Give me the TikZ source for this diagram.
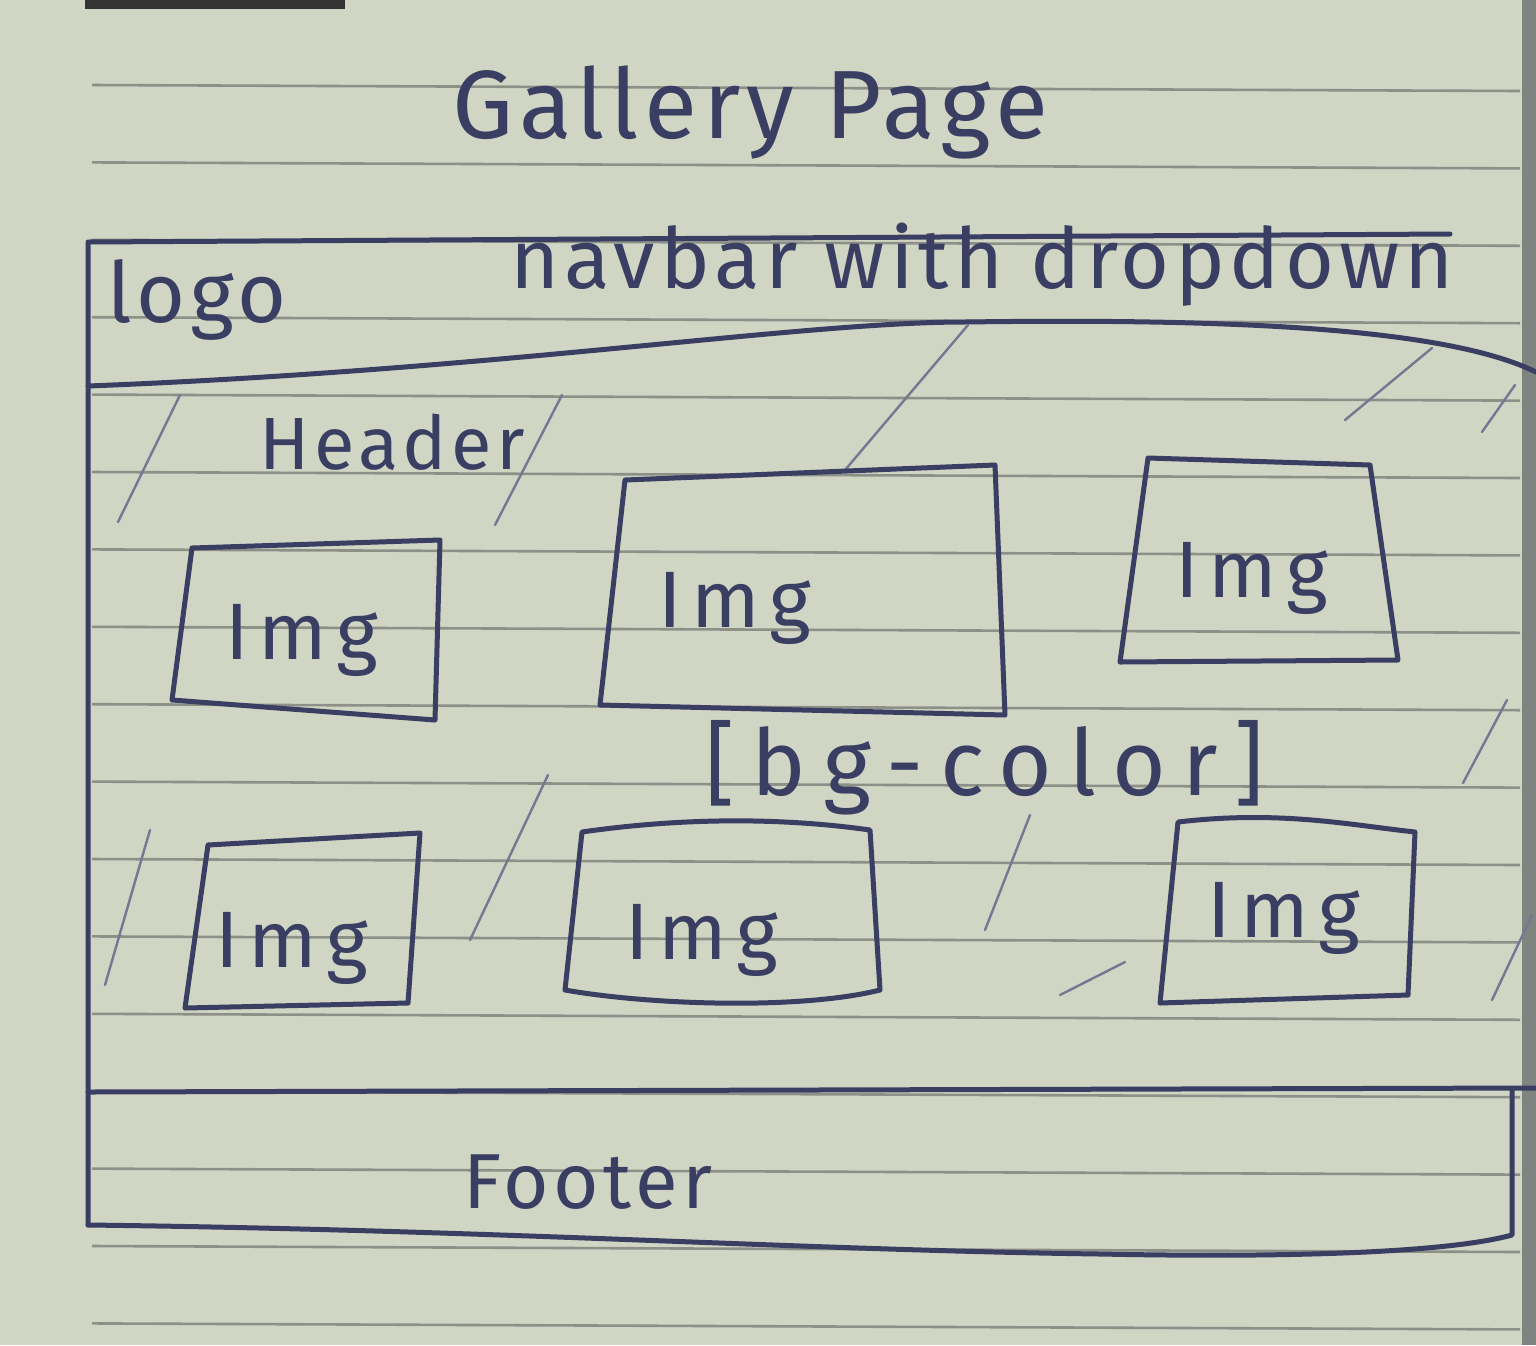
\documentclass[tikz,border=0pt]{standalone}
\usepackage{fontspec}
\setmainfont{Fira Sans}[LetterSpace=6]
\begin{document}
\begin{tikzpicture}[x=1pt,y=-1pt,
  pen/.style={draw=ink,line width=5pt,line cap=round,line join=round},
  thinpen/.style={draw=ink!70,line width=2.4pt,line cap=round},
  ruled/.style={draw=rule,line width=2.6pt},
  lbl/.style={text=ink,inner sep=0pt,anchor=center},
  imgtext/.style={lbl,font=\fontsize{80}{80}\selectfont\addfontfeature{LetterSpace=12}},
]
\definecolor{paper}{HTML}{D0D5C4}
\definecolor{rule}{HTML}{8C9087}
\definecolor{ink}{HTML}{3A3E63}
\definecolor{gutter}{HTML}{7E8480}

% sheet of lined paper
\fill[paper] (0,0) rectangle (1536,1345);
\useasboundingbox (0,0) rectangle (1536,1345);
\fill[black!80] (85,0) rectangle (345,9);
\fill[gutter] (1522,0) rectangle (1536,1345);
\foreach \k in {0,...,16}{
  \draw[ruled] (92,{85+77.4*\k}) -- (1520,{85+77.4*\k+6});
}

% title
\node[lbl,font=\fontsize{97}{97}\selectfont] (title) at (750,112) {Gallery Page};

% page frame: left side, top edge
\coordinate (ftl) at (88,242);
\coordinate (ftr) at (1450,234);
\coordinate (fbl) at (88,1225);
\draw[pen] (ftr) -- (ftl) -- (fbl);

% navbar
\coordinate (navl) at (88,386);
\coordinate (navr) at (1536,372);
\draw[pen] (navl) .. controls (500,370) and (800,322) .. (965,322)
                  .. controls (1250,318) and (1450,330) .. (navr);
\node[lbl,font=\fontsize{84}{84}\selectfont] (logo) at (197,300) {logo};
\node[lbl,font=\fontsize{84}{84}\selectfont] (navbar) at (982,265) {navbar with dropdown};

% header label
\node[lbl,font=\fontsize{74}{74}\selectfont] (header) at (392,442) {Header};

% background hatch strokes
\foreach \a/\b in {{(118,522)}/{(180,395)}, {(495,525)}/{(562,395)}, {(845,470)}/{(968,325)},
                   {(1345,420)}/{(1432,348)}, {(1482,432)}/{(1515,385)}, {(1463,783)}/{(1507,700)},
                   {(105,985)}/{(150,830)}, {(470,940)}/{(548,775)}, {(985,930)}/{(1030,815)},
                   {(1060,995)}/{(1125,962)}, {(1492,1000)}/{(1532,915)}}{
  \draw[thinpen] \a -- \b;
}

% first row of images
\draw[pen] (192,548) -- (440,540) -- (435,720) -- (172,700) -- cycle;
\node[imgtext] (img1) at (302,640) {Img};
\draw[pen] (625,480) -- (995,465) -- (1005,715) -- (600,705) -- cycle;
\node[imgtext] (img2) at (735,608) {Img};
\draw[pen] (1148,458) -- (1370,465) -- (1398,660) -- (1120,662) -- cycle;
\node[imgtext] (img3) at (1252,578) {Img};

% background colour note
\node[lbl,font=\fontsize{92}{92}\selectfont\addfontfeature{LetterSpace=18}] (bg) at (985,768) {[bg-color]};

% second row of images
\draw[pen] (208,845) -- (420,833) -- (408,1003) -- (185,1008) -- cycle;
\node[imgtext] (img4) at (292,948) {Img};
\draw[pen] (582,832) .. controls (700,815) and (800,820) .. (870,830)
           -- (880,990) .. controls (800,1010) and (650,1005) .. (565,990) -- cycle;
\node[imgtext] (img5) at (702,940) {Img};
\draw[pen] (1178,822) .. controls (1280,810) and (1350,825) .. (1415,832)
           -- (1408,995) -- (1160,1003) -- cycle;
\node[imgtext] (img6) at (1284,918) {Img};

% footer
\coordinate (footr) at (1512,1090);
\draw[pen] (88,1092) -- (1536,1088);
\draw[pen] (fbl) .. controls (500,1230) and (800,1250) .. (1100,1254)
                 .. controls (1300,1258) and (1450,1252) .. (1512,1235) -- (footr);
\node[lbl,font=\fontsize{78}{78}\selectfont] (footer) at (588,1182) {Footer};
\end{tikzpicture}
\end{document}
